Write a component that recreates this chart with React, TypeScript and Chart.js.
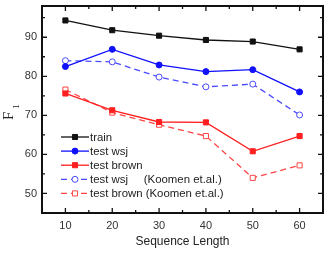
import React, { useEffect, useRef } from 'react';
import { Chart, registerables } from 'chart.js';

Chart.register(...registerables);

const seqLengths = [10, 20, 30, 40, 50, 60];
const train = [94.3, 91.8, 90.4, 89.3, 88.9, 86.9];
const testWsj = [82.5, 86.9, 82.9, 81.2, 81.7, 76.0];
const testBrown = [75.6, 71.3, 68.3, 68.2, 60.8, 64.7];
const wsjKoomen = [84.0, 83.7, 79.8, 77.3, 78.0, 70.1];
const brownKoomen = [76.6, 70.7, 67.6, 64.7, 54.0, 57.2];
const seriesLabels = [
  'train',
  'test wsj',
  'test brown',
  'test wsj     (Koomen et.al.)',
  'test brown (Koomen et.al.)',
];
const xTickLabels = [10, 20, 30, 40, 50, 60];
const yTickLabels = [50, 60, 70, 80, 90];
const xTitle = 'Sequence Length';
const yTitleMain = 'F';
const yTitleSub = '1';

const FONT = '"Liberation Sans", Arial, sans-serif';

const framePlugin = {
  id: 'frameTicksLegend',
  afterDraw(chart: any) {
    const { ctx, chartArea } = chart;
    const { left, right, top, bottom } = chartArea;
    const xs = chart.scales.x;
    const ys = chart.scales.y;
    ctx.save();
    ctx.strokeStyle = '#111';
    // inner ticks
    ctx.lineWidth = 1.3;
    for (let v = Math.ceil(xs.min / 5) * 5; v <= xs.max; v += 5) {
      const px = xs.getPixelForValue(v);
      const len = v % 10 === 0 ? 5 : 3;
      ctx.beginPath();
      ctx.moveTo(px, bottom);
      ctx.lineTo(px, bottom - len);
      ctx.moveTo(px, top);
      ctx.lineTo(px, top + len);
      ctx.stroke();
    }
    for (let v = Math.ceil(ys.min / 5) * 5; v <= ys.max; v += 5) {
      const py = ys.getPixelForValue(v);
      const len = v % 10 === 0 ? 5 : 3;
      ctx.beginPath();
      ctx.moveTo(left, py);
      ctx.lineTo(left + len, py);
      ctx.moveTo(right, py);
      ctx.lineTo(right - len, py);
      ctx.stroke();
    }
    // frame
    ctx.lineWidth = 2;
    ctx.strokeRect(left, top, right - left, bottom - top);

    // y title F_1
    ctx.save();
    ctx.translate(13, 120);
    ctx.rotate(-Math.PI / 2);
    ctx.fillStyle = '#222';
    ctx.textBaseline = 'alphabetic';
    ctx.textAlign = 'left';
    ctx.font = '15px "Liberation Serif", "DejaVu Serif", serif';
    ctx.fillText(yTitleMain, 0, 0);
    const fw = ctx.measureText(yTitleMain).width;
    ctx.font = '9px "Liberation Serif", "DejaVu Serif", serif';
    ctx.fillText(yTitleSub, fw + 3, 6);
    ctx.restore();

    // legend
    const lx0 = 61;
    const lx1 = 89;
    const textX = 90;
    const y0 = 137;
    const dy = 14.1;
    chart.data.datasets.forEach((ds: any, i: number) => {
      const y = y0 + i * dy;
      ctx.save();
      ctx.strokeStyle = ds.borderColor;
      ctx.lineWidth = ds.borderWidth;
      ctx.setLineDash(ds.borderDash || []);
      ctx.beginPath();
      ctx.moveTo(lx0, y);
      ctx.lineTo(lx1, y);
      ctx.stroke();
      ctx.setLineDash([]);
      const mx = (lx0 + lx1) / 2;
      ctx.fillStyle = ds.pointBackgroundColor;
      ctx.strokeStyle = ds.pointBorderColor;
      ctx.lineWidth = 1;
      const r = ds.pointRadius;
      ctx.beginPath();
      if (ds.pointStyle === 'rect') {
        const s = Math.SQRT1_2 * r;
        ctx.rect(mx - s, y - s, 2 * s, 2 * s);
      } else {
        ctx.arc(mx, y, r, 0, Math.PI * 2);
      }
      ctx.fill();
      ctx.stroke();
      ctx.fillStyle = '#222';
      ctx.font = '11.4px ' + FONT;
      ctx.textBaseline = 'middle';
      ctx.textAlign = 'left';
      ctx.fillText(ds.label, textX, y + 0.5);
      ctx.restore();
    });
    ctx.restore();
  },
};

function makeSet(label: string, data: number[], color: string, style: string, filled: boolean, dash: number[]) {
  return {
    label,
    data: seqLengths.map((x, i) => ({ x, y: data[i] })),
    borderColor: color,
    backgroundColor: color,
    borderWidth: 1.3,
    borderDash: dash,
    pointStyle: style,
    pointRadius: style === 'rect' ? 3.6 : 3,
    pointBorderWidth: 1,
    pointBackgroundColor: filled ? color : '#fff',
    pointBorderColor: color,
    tension: 0,
    fill: false,
  };
}

export default function App() {
  const ref = useRef<HTMLCanvasElement | null>(null);
  useEffect(() => {
    document.body.style.margin = '0';
    const canvas = ref.current;
    if (!canvas) return;
    const chart = new Chart(canvas, {
      type: 'line',
      data: {
        datasets: [
          makeSet(seriesLabels[0], train, '#111111', 'rect', true, []),
          makeSet(seriesLabels[1], testWsj, '#1010ff', 'circle', true, []),
          makeSet(seriesLabels[2], testBrown, '#ff1f1f', 'rect', true, []),
          makeSet(seriesLabels[3], wsjKoomen, '#4a4aff', 'circle', false, [6, 4]),
          makeSet(seriesLabels[4], brownKoomen, '#ff4545', 'rect', false, [6, 4]),
        ],
      },
      options: {
        animation: false,
        responsive: false,
        maintainAspectRatio: false,
        layout: { padding: { top: 6, right: 10, left: 0, bottom: 0 } },
        plugins: { legend: { display: false }, tooltip: { enabled: false } },
        scales: {
          x: {
            type: 'linear',
            min: 5,
            max: 65,
            grid: { display: false, drawTicks: false },
            border: { display: false },
            ticks: {
              stepSize: 5,
              autoSkip: false,
              maxRotation: 0,
              padding: 6,
              color: '#333',
              font: { family: FONT, size: 11 },
              callback: (v: any) => (xTickLabels.includes(v) ? String(v) : ''),
            },
            title: {
              display: true,
              text: xTitle,
              color: '#222',
              font: { family: FONT, size: 12 },
              padding: { top: 0, bottom: 5 },
            },
            afterFit: (s: any) => {
              s.height = 41;
              s.paddingLeft = 0;
              s.paddingRight = 0;
            },
          },
          y: {
            type: 'linear',
            min: 45,
            max: 98,
            grid: { display: false, drawTicks: false },
            border: { display: false },
            ticks: {
              stepSize: 5,
              autoSkip: false,
              padding: 5,
              color: '#333',
              font: { family: FONT, size: 11 },
              callback: (v: any) => (yTickLabels.includes(v) ? String(v) : ''),
            },
            afterFit: (s: any) => {
              s.width = 42;
              s.paddingTop = 0;
              s.paddingBottom = 0;
            },
          },
        },
      },
      plugins: [framePlugin],
    } as any);
    return () => chart.destroy();
  }, []);
  return (
    <div style={{ width: 333, height: 254 }}>
      <canvas ref={ref} width={333} height={254} style={{ display: 'block' }} />
    </div>
  );
}
